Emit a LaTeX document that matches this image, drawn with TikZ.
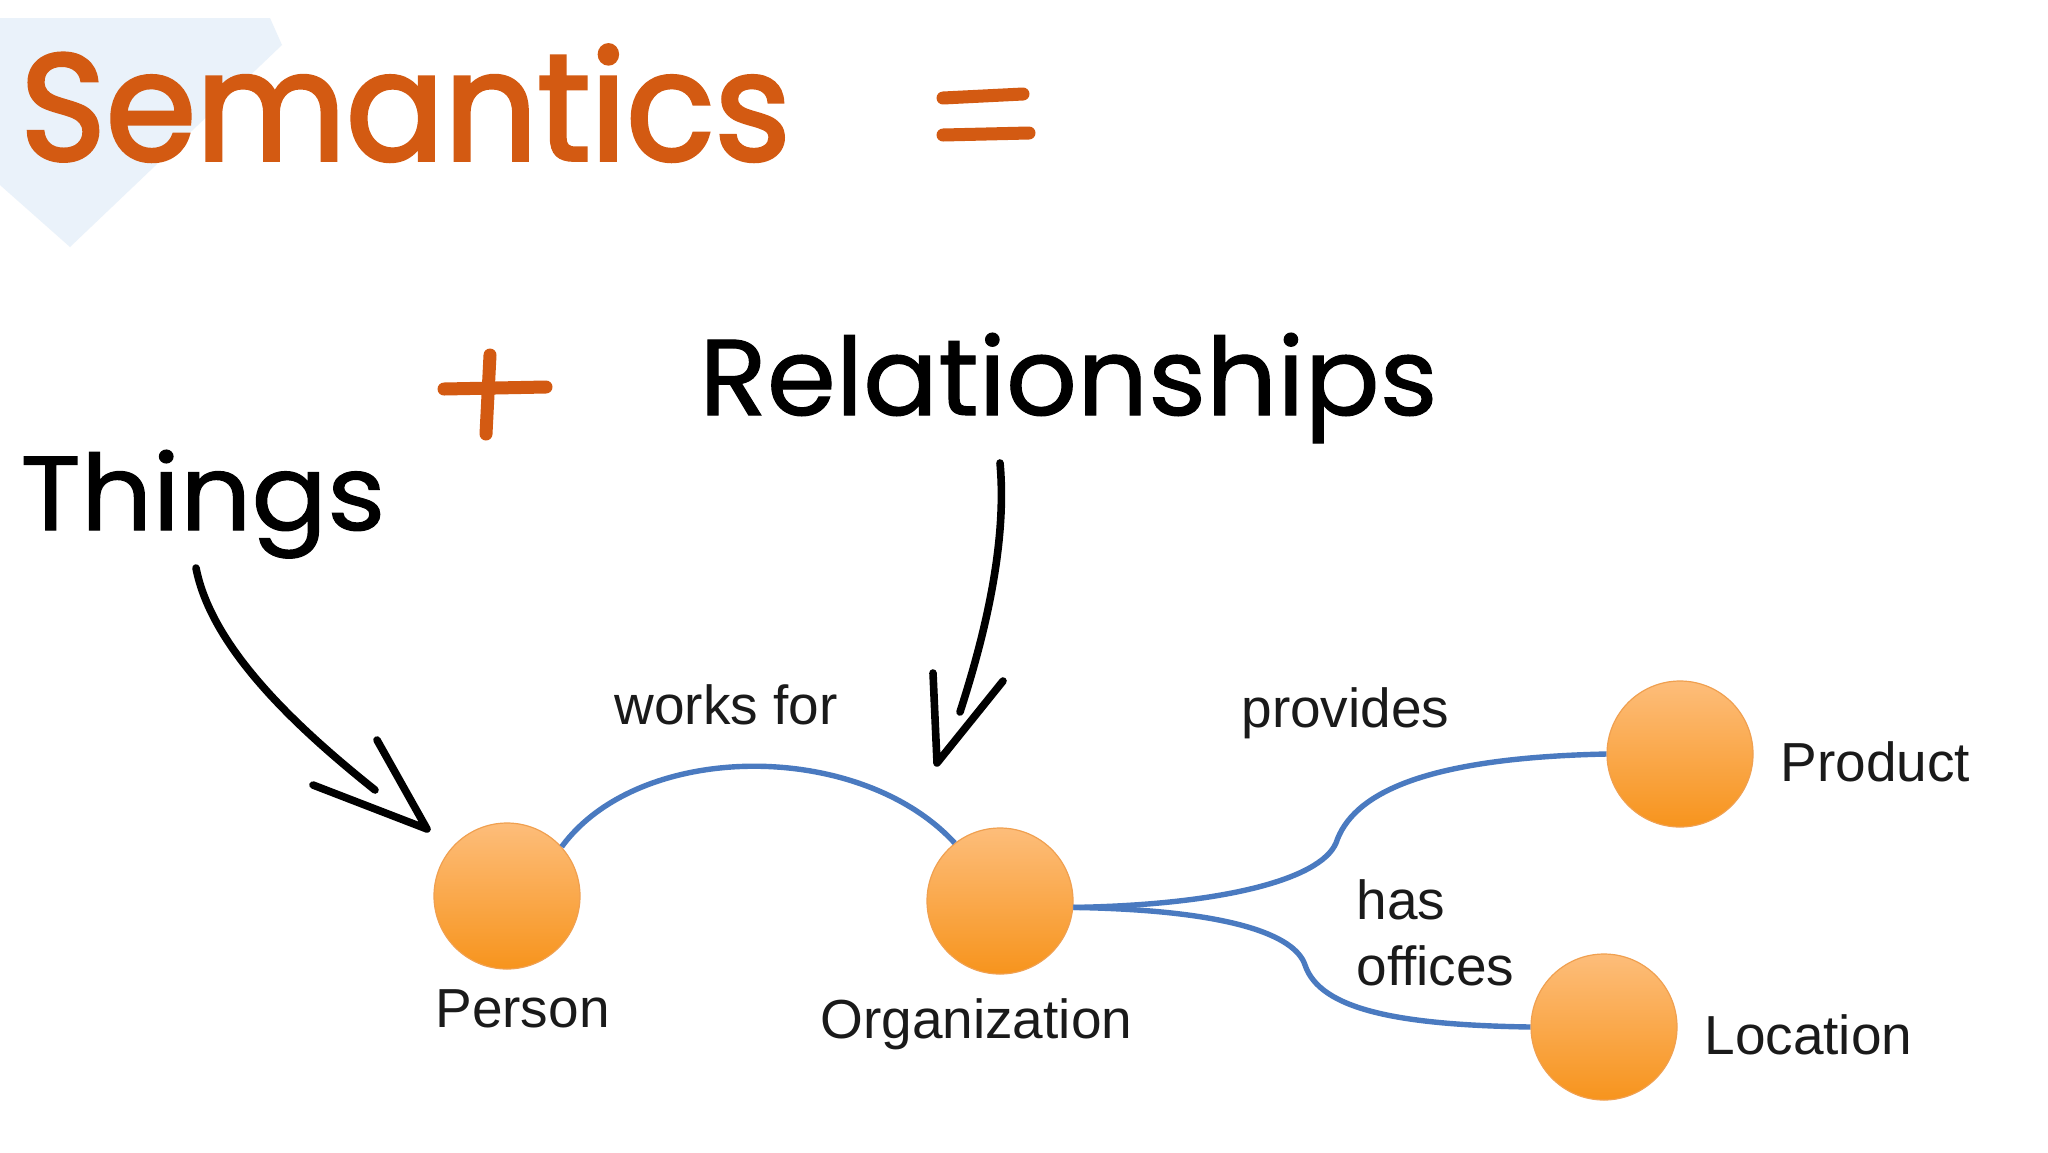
\documentclass[tikz,border=0pt]{standalone}
\usepackage{fontspec}
\setmainfont{Liberation Sans}
\newfontfamily\handfont[FakeBold=1]{Poppins}
\newfontfamily\handfontheavy[FakeBold=2.5]{Poppins}
\usepackage{graphicx}
\definecolor{chalkorange}{HTML}{D35A12}
\definecolor{edgeblue}{HTML}{4A7AC0}
\definecolor{nodetop}{HTML}{FDBD7A}
\definecolor{nodebot}{HTML}{F7941D}
\definecolor{nodeedge}{HTML}{F0A050}
\definecolor{labeltext}{HTML}{1A1A1A}
\definecolor{paleblue}{HTML}{EAF2FA}
\begin{document}
\begin{tikzpicture}[x=0.5pt,y=-0.5pt,
  thing/.style={circle, minimum size=73pt, inner sep=0pt, draw=nodeedge, line width=0.6pt, top color=nodetop, bottom color=nodebot},
  lbl/.style={font=\fontsize{27.5}{30}\selectfont, text=labeltext, inner sep=0pt, anchor=base west},
  rel/.style={draw=edgeblue, line width=2.7pt},
  hand/.style={inner sep=0pt, anchor=base west, font=\handfont},
  pointer/.style={draw=black, line width=3.8pt, line cap=round, line join=round},
  chalk/.style={draw=chalkorange, line width=6.5pt, line cap=round}]
\useasboundingbox[fill=white] (0,0) rectangle (2048,1152);
% pale background shape
\fill[paleblue] (0,18) -- (270,18) -- (282,45) -- (70,247) -- (0,185) -- cycle;
% titles
\node[hand, text=chalkorange, font=\handfontheavy] (semantics) at (20,160) {\resizebox{385pt}{57.5pt}{Semantics}};
\draw[chalk] (943,98) -- (1023,94);
\draw[chalk] (943,135) -- (1029,133);
\draw[chalk] (444,389) -- (546,387);
\draw[chalk] (490,355) -- (486,434);
\node[hand, text=black] (relationships) at (699,415) {\resizebox{369pt}{41pt}{Relationships}};
\node[hand, text=black] (things) at (20,530) {\resizebox{182.5pt}{40pt}{Things}};
% circles
\node[thing] (person) at (507,896) {};
\node[thing] (org) at (1000,901) {};
\node[thing] (product) at (1680,754) {};
\node[thing] (location) at (1604,1027) {};
% labels
\node[lbl] (lperson) at (435,1027) {Person};
\node[lbl] (lorg) at (820,1038) {Organization};
\node[lbl] (lproduct) at (1780,781) {Product};
\node[lbl] (llocation) at (1704,1054) {Location};
\node[lbl] (lworks) at (614,724) {works for};
\node[lbl] (lprovides) at (1241,727) {provides};
\node[lbl] (lhas) at (1356,919) {has};
\node[lbl] (loffices) at (1356,985) {offices};
% relations
\draw[rel] (person.42) .. controls (640,740) and (860,740) .. (org.128);
\draw[rel] (org.-5) .. controls (1220,905) and (1320,880) .. (1336,843) .. controls (1352,795) and (1420,758) .. (product.180);
\draw[rel] (org.-5) .. controls (1230,910) and (1295,935) .. (1305,965) .. controls (1320,1010) and (1400,1025) .. (location.180);
% pointers
\coordinate (tstart) at (196,568);
\coordinate (tend) at (375,790);
\coordinate (ttip) at (427,829);
\draw[pointer] (tstart) .. controls (212,650) and (300,730) .. (tend);
\draw[pointer] (313,785) -- (ttip) -- (377,740);
\coordinate (rstart) at (1000,463);
\coordinate (rend) at (960,712);
\coordinate (rtip) at (937,763);
\draw[pointer] (rstart) .. controls (1008,550) and (980,650) .. (rend);
\draw[pointer] (933,673) -- (rtip) -- (1003,681);
\end{tikzpicture}
\end{document}
